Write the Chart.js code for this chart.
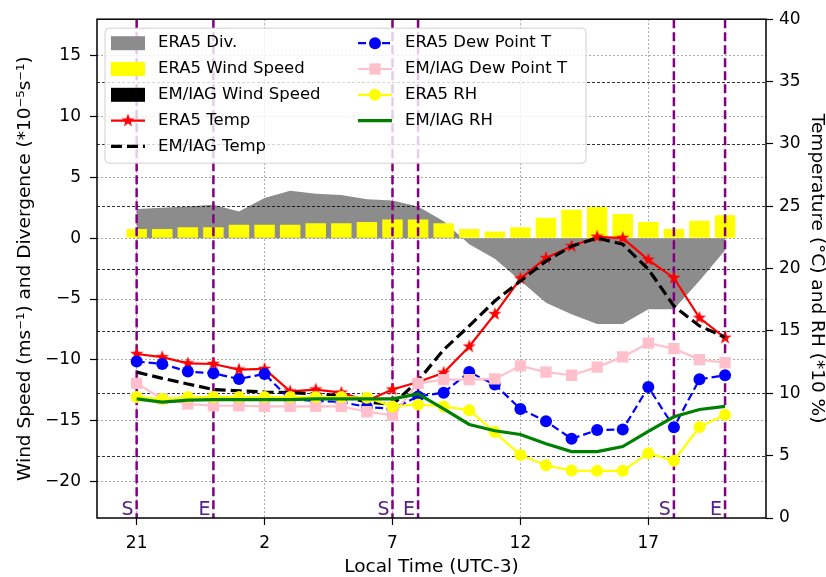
<!DOCTYPE html>
<html>
<head>
<meta charset="utf-8">
<title>ERA5 vs EM/IAG</title>
<script src="https://cdn.jsdelivr.net/npm/chart.js"></script>
<style>
  html, body { margin: 0; padding: 0; background: #fff; }
  #wrap { width: 826px; height: 577px; }
</style>
</head>
<body>
<div id="wrap"><canvas id="myChart" width="826" height="577"></canvas></div>
<script>
// local hour of each sample (UTC-3), 21h to 20h next day
const hours = [21, 22, 23, 0, 1, 2, 3, 4, 5, 6, 7, 8, 9, 10, 11, 12, 13, 14, 15, 16, 17, 18, 19, 20];

// left axis: ms-1 and *10-5 s-1
const era5Div = [2.4, 2.5, 2.6, 2.75, 2.2, 3.3, 3.9, 3.65, 3.55, 3.2, 3.1, 2.6, 1.4, -0.5, -1.7, -3.5, -5.3, -6.25, -7.05, -7.05, -5.85, -5.85, -3.5, -1.0];
const era5Wind = [0.76, 0.76, 0.9, 0.9, 1.1, 1.1, 1.1, 1.23, 1.23, 1.34, 1.53, 1.53, 1.22, 0.76, 0.55, 0.9, 1.67, 2.33, 2.57, 1.99, 1.33, 0.76, 1.44, 1.89];
const emWind = [];

// right axis: degC and RH*10 %
const era5Temp = [13.15, 12.9, 12.4, 12.35, 11.9, 11.95, 10.15, 10.3, 10.05, 9.4, 10.3, 10.9, 11.65, 13.75, 16.35, 19.2, 20.85, 21.8, 22.55, 22.45, 20.7, 19.25, 16.05, 14.45];
const emTemp = [11.7, 11.2, 10.75, 10.3, 10.2, 10.1, 10.05, 9.95, 9.8, 9.3, 9.1, 11.0, 13.5, 15.4, 17.4, 19.0, 20.6, 21.8, 22.45, 21.95, 19.95, 17.0, 15.4, 14.5];
const era5Dew = [12.55, 12.35, 11.75, 11.6, 11.15, 11.55, 9.5, 9.4, 9.3, 8.9, 8.75, 9.75, 10.05, 11.7, 10.7, 8.75, 7.75, 6.35, 7.05, 7.1, 10.5, 7.28, 11.12, 11.45];
const emDew = [10.8, 9.55, 9.15, 9.0, 9.0, 8.95, 8.95, 8.95, 8.95, 8.52, 8.24, 10.8, 11.1, 11.1, 11.15, 12.2, 11.7, 11.45, 12.1, 12.92, 14.02, 13.58, 12.7, 12.45];
const era5RH = [9.7, 9.55, 9.7, 9.7, 9.7, 9.7, 9.7, 9.7, 9.7, 9.65, 8.95, 9.1, 8.95, 8.65, 6.89, 5.05, 4.23, 3.8, 3.78, 3.78, 5.2, 4.6, 7.3, 8.27];
const emRH = [9.55, 9.3, 9.45, 9.5, 9.5, 9.5, 9.5, 9.55, 9.55, 9.55, 9.55, 9.95, 8.75, 7.5, 7.0, 6.7, 5.95, 5.33, 5.33, 5.73, 6.95, 8.12, 8.7, 8.95];

// sunrise / sunset marks (sample index) and their labels
const eventIdx = [0, 3, 10, 11, 21, 23];
const eventLabels = ['S', 'E', 'S', 'E', 'S', 'E'];

const FONT = "'DejaVu Sans', sans-serif";
Chart.defaults.font.family = FONT;
Chart.defaults.color = '#000';

const pts = (vals) => vals.map((v, i) => ({ x: i, y: v }));
const minus = (v) => (v < 0 ? '\u2212' + Math.abs(v) : String(v));

function makeStar(color, r) {
    const c = document.createElement('canvas');
    const s = Math.ceil(r * 2 + 2);
    c.width = s; c.height = s;
    const g = c.getContext('2d');
    g.fillStyle = color;
    g.beginPath();
    for (let k = 0; k < 10; k++) {
        const rad = k % 2 ? r * 0.4 : r;
        const a = -Math.PI / 2 + k * Math.PI / 5;
        g.lineTo(s / 2 + rad * Math.cos(a), s / 2 + rad * Math.sin(a));
    }
    g.closePath();
    g.fill();
    return c;
}
const redStar = makeStar('red', 7);

function drawMarker(ctx, d, x, y) {
    const r = d.pointRadius || 0;
    if (!r) return;
    const st = d.pointStyle;
    if (st instanceof HTMLCanvasElement) {
        ctx.drawImage(st, x - st.width / 2, y - st.height / 2);
        return;
    }
    ctx.fillStyle = d.backgroundColor;
    if (st === 'rect') {
        const h = r * Math.SQRT1_2;
        ctx.fillRect(x - h, y - h, 2 * h, 2 * h);
    } else {
        ctx.beginPath();
        ctx.arc(x, y, r, 0, Math.PI * 2);
        ctx.fill();
    }
}

function drawLegend(chart) {
    const { ctx, chartArea: a } = chart;
    const ds = chart.data.datasets;
    const bx = a.left + 8, by = a.top + 9, bw = 481, bh = 135;
    ctx.save();
    ctx.setLineDash([]);
    ctx.beginPath();
    ctx.roundRect(bx, by, bw, bh, 4);
    ctx.fillStyle = 'rgba(255,255,255,0.8)';
    ctx.fill();
    ctx.strokeStyle = '#d0d0d0';
    ctx.lineWidth = 1;
    ctx.stroke();
    ctx.font = '16.5px ' + FONT;
    ctx.textBaseline = 'middle';
    ctx.textAlign = 'left';
    ds.forEach((d, i) => {
        const col = i < 5 ? 0 : 1;
        const row = col ? i - 5 : i;
        const hx = bx + 6 + col * 247;
        const y = by + 15 + row * 25.8;
        const hw = 34;
        if (d.type === 'bar' || d.fill) {
            ctx.fillStyle = d.backgroundColor;
            ctx.fillRect(hx, y - 7, hw, 14);
        } else {
            ctx.strokeStyle = d.borderColor;
            ctx.lineWidth = d.borderWidth;
            ctx.setLineDash(d.borderDash || []);
            ctx.beginPath();
            ctx.moveTo(hx, y);
            ctx.lineTo(hx + hw, y);
            ctx.stroke();
            ctx.setLineDash([]);
            drawMarker(ctx, d, hx + hw / 2, y);
        }
        ctx.fillStyle = '#000';
        ctx.fillText(d.label, hx + 47, y);
    });
    ctx.restore();
}

const overlay = {
    id: 'overlay',
    afterDatasetDraw(chart, args) {
        // right-axis grid and S/E lines sit over the fill and bars, under the lines
        if (chart.data.datasets[args.index].label !== 'EM/IAG Wind Speed') return;
        const { ctx, chartArea: a, scales } = chart;
        ctx.save();
        ctx.strokeStyle = 'rgba(0,0,0,0.8)';
        ctx.lineWidth = 1;
        ctx.setLineDash([3, 2]);
        scales.y1.ticks.forEach((t) => {
            const y = Math.round(scales.y1.getPixelForValue(t.value)) + 0.5;
            if (y <= a.top + 1 || y >= a.bottom - 1) return;
            ctx.beginPath();
            ctx.moveTo(a.left, y);
            ctx.lineTo(a.right, y);
            ctx.stroke();
        });
        ctx.strokeStyle = 'purple';
        ctx.lineWidth = 2.5;
        ctx.setLineDash([9, 4]);
        ctx.fillStyle = '#55208a';
        ctx.font = '19px ' + FONT;
        ctx.textAlign = 'right';
        ctx.textBaseline = 'alphabetic';
        eventIdx.forEach((e, k) => {
            const x = scales.x.getPixelForValue(e);
            ctx.beginPath();
            ctx.moveTo(x, a.top);
            ctx.lineTo(x, a.bottom);
            ctx.stroke();
            ctx.fillText(eventLabels[k], x - 3, a.bottom - 3);
        });
        ctx.restore();
    },
    afterDraw(chart) {
        const { ctx, chartArea: a } = chart;
        ctx.save();
        ctx.setLineDash([]);
        ctx.strokeStyle = '#000';
        ctx.lineWidth = 1.5;
        ctx.strokeRect(a.left, a.top, a.right - a.left, a.bottom - a.top);
        ctx.restore();
        drawLegend(chart);
    }
};

const leftGrid = { color: 'rgba(110,110,110,0.75)', lineWidth: 0.8, tickColor: '#000', tickLength: 7, tickWidth: 1.2, offset: false };

const ctx = document.getElementById('myChart').getContext('2d');
const myChart = new Chart(ctx, {
    type: 'bar',
    data: {
        datasets: [
            { type: 'line', label: 'ERA5 Div.', data: pts(era5Div), yAxisID: 'y', order: 12, fill: 'origin', backgroundColor: 'rgb(140,140,140)', borderColor: 'rgb(140,140,140)', borderWidth: 0, pointRadius: 0 },
            { type: 'bar', label: 'ERA5 Wind Speed', data: pts(era5Wind), yAxisID: 'y', order: 11, backgroundColor: 'yellow', grouped: false, barPercentage: 1, categoryPercentage: 0.8 },
            { type: 'bar', label: 'EM/IAG Wind Speed', data: pts(emWind), yAxisID: 'y', order: 10, backgroundColor: 'black', grouped: false, barPercentage: 1, categoryPercentage: 0.8 },
            { type: 'line', label: 'ERA5 Temp', data: pts(era5Temp), yAxisID: 'y1', order: 6, borderColor: 'red', backgroundColor: 'red', borderWidth: 2.2, pointStyle: redStar, pointRadius: 7 },
            { type: 'line', label: 'EM/IAG Temp', data: pts(emTemp), yAxisID: 'y1', order: 5, borderColor: 'black', backgroundColor: 'black', borderWidth: 3.2, borderDash: [11, 5], pointRadius: 0 },
            { type: 'line', label: 'ERA5 Dew Point T', data: pts(era5Dew), yAxisID: 'y1', order: 4, borderColor: 'blue', backgroundColor: 'blue', borderWidth: 2.2, borderDash: [8, 4], pointStyle: 'circle', pointRadius: 6, pointBorderWidth: 0 },
            { type: 'line', label: 'EM/IAG Dew Point T', data: pts(emDew), yAxisID: 'y1', order: 3, borderColor: 'pink', backgroundColor: 'pink', borderWidth: 2.2, pointStyle: 'rect', pointRadius: 8, pointBorderWidth: 0 },
            { type: 'line', label: 'ERA5 RH', data: pts(era5RH), yAxisID: 'y1', order: 2, borderColor: 'yellow', backgroundColor: 'yellow', borderWidth: 2.2, pointStyle: 'circle', pointRadius: 6, pointBorderWidth: 0 },
            { type: 'line', label: 'EM/IAG RH', data: pts(emRH), yAxisID: 'y1', order: 1, borderColor: 'green', backgroundColor: 'green', borderWidth: 3.2, pointRadius: 0 }
        ]
    },
    options: {
        responsive: false,
        animation: false,
        events: [],
        layout: { padding: { top: 18, left: 0, right: 0, bottom: 0 } },
        plugins: { legend: { display: false }, tooltip: { enabled: false } },
        scales: {
            x: {
                type: 'linear', position: 'bottom', min: -1.55, max: 24.6, offset: false,
                afterFit: (s) => { s.height = 59; },
                ticks: { stepSize: 5, includeBounds: false, padding: 8, maxRotation: 0, font: { size: 17 },
                    callback: (v) => (hours[v] !== undefined ? String(hours[v]) : '') },
                grid: leftGrid,
                border: { display: false, dash: [2, 2] },
                title: { display: true, text: 'Local Time (UTC-3)', font: { size: 18.5, lineHeight: 1.1 }, padding: { top: 0, bottom: 0 } }
            },
            y: {
                position: 'left', min: -23, max: 18,
                afterFit: (s) => { s.width = 97; },
                ticks: { stepSize: 5, includeBounds: false, padding: 9, font: { size: 17 }, callback: (v) => minus(v) },
                grid: leftGrid,
                border: { display: false, dash: [2, 2] },
                title: { display: true, text: 'Wind Speed (ms\u207B\u00B9) and Divergence (*10\u207B\u2075s\u207B\u00B9)', font: { size: 18.5, lineHeight: 1.2 }, padding: { top: 14, bottom: 0 } }
            },
            y1: {
                position: 'right', min: 0, max: 40,
                afterFit: (s) => { s.width = 60; },
                ticks: { stepSize: 5, padding: 6, font: { size: 17 } },
                grid: { drawOnChartArea: false, color: '#000', tickColor: '#000', tickLength: 7, tickWidth: 1.2 },
                border: { display: false },
                title: { display: true, text: 'Temperature (\u00B0C) and RH (*10 %)', font: { size: 18.5, lineHeight: 1.0 }, padding: { top: 0, bottom: 0 } }
            }
        }
    },
    plugins: [overlay]
});
</script>
</body>
</html>
